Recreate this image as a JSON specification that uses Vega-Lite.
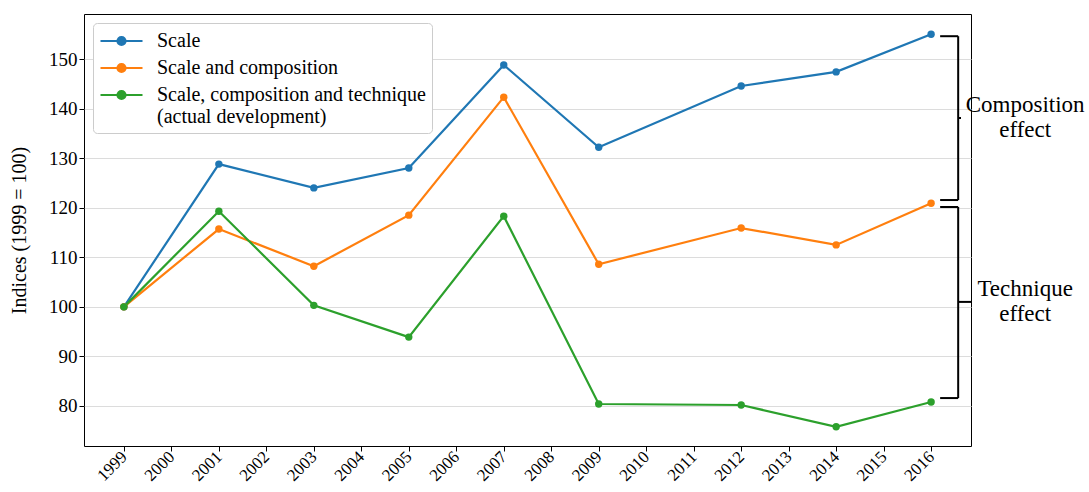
{
  "$schema": "https://vega.github.io/schema/vega-lite/v6.json",
  "width": 887,
  "height": 432,
  "autosize": "none",
  "padding": {"left": 84, "top": 14, "right": 118, "bottom": 46},
  "background": "white",
  "config": {
    "font": "Liberation Serif",
    "view": {"stroke": "black", "strokeWidth": 1},
    "axis": {"labelFont": "Liberation Serif", "titleFont": "Liberation Serif", "labelFontSize": 19, "titleFontSize": 20, "titleFontWeight": "normal", "labelColor": "black", "titleColor": "black", "domainColor": "black", "tickColor": "black", "tickSize": 5, "gridColor": "#dcdcdc", "gridWidth": 1}
  },
  "datasets": {
    "series": [
      {"year": 1999, "value": 100, "series": "Scale"},
      {"year": 2001, "value": 128.8, "series": "Scale"},
      {"year": 2003, "value": 124.0, "series": "Scale"},
      {"year": 2005, "value": 128.0, "series": "Scale"},
      {"year": 2007, "value": 148.8, "series": "Scale"},
      {"year": 2009, "value": 132.2, "series": "Scale"},
      {"year": 2012, "value": 144.55, "series": "Scale"},
      {"year": 2014, "value": 147.4, "series": "Scale"},
      {"year": 2016, "value": 155.0, "series": "Scale"},
      {"year": 1999, "value": 100, "series": "Scale and composition"},
      {"year": 2001, "value": 115.7, "series": "Scale and composition"},
      {"year": 2003, "value": 108.2, "series": "Scale and composition"},
      {"year": 2005, "value": 118.5, "series": "Scale and composition"},
      {"year": 2007, "value": 142.3, "series": "Scale and composition"},
      {"year": 2009, "value": 108.6, "series": "Scale and composition"},
      {"year": 2012, "value": 115.9, "series": "Scale and composition"},
      {"year": 2014, "value": 112.5, "series": "Scale and composition"},
      {"year": 2016, "value": 120.9, "series": "Scale and composition"},
      {"year": 1999, "value": 100, "series": "Scale, composition and technique (actual development)"},
      {"year": 2001, "value": 119.3, "series": "Scale, composition and technique (actual development)"},
      {"year": 2003, "value": 100.3, "series": "Scale, composition and technique (actual development)"},
      {"year": 2005, "value": 93.9, "series": "Scale, composition and technique (actual development)"},
      {"year": 2007, "value": 118.3, "series": "Scale, composition and technique (actual development)"},
      {"year": 2009, "value": 80.4, "series": "Scale, composition and technique (actual development)"},
      {"year": 2012, "value": 80.2, "series": "Scale, composition and technique (actual development)"},
      {"year": 2014, "value": 75.8, "series": "Scale, composition and technique (actual development)"},
      {"year": 2016, "value": 80.8, "series": "Scale, composition and technique (actual development)"}
    ],
    "brackets": [
      {"x": 2016.19, "x2": 2016.57, "y": 154.6, "y2": 154.6},
      {"x": 2016.57, "x2": 2016.57, "y": 154.6, "y2": 121.55},
      {"x": 2016.19, "x2": 2016.57, "y": 121.55, "y2": 121.55},
      {"x": 2016.57, "x2": 2016.63, "y": 138.1, "y2": 138.1},
      {"x": 2016.19, "x2": 2016.57, "y": 120.15, "y2": 120.15},
      {"x": 2016.57, "x2": 2016.57, "y": 120.15, "y2": 81.6},
      {"x": 2016.19, "x2": 2016.57, "y": 81.6, "y2": 81.6},
      {"x": 2016.57, "x2": 2016.84, "y": 101.0, "y2": 101.0}
    ],
    "labels": [
      {"x": 2017.98, "y": 140.7, "label": "Composition\neffect"},
      {"x": 2017.98, "y": 103.6, "label": "Technique\neffect"}
    ]
  },
  "layer": [
    {
      "data": {"name": "series"},
      "mark": {"type": "line", "strokeWidth": 2.2, "point": {"filled": true, "size": 55, "opacity": 1}},
      "encoding": {
        "x": {"field": "year", "type": "quantitative", "scale": {"domain": [1998.16, 2016.84], "nice": false, "zero": false},
              "axis": {"values": [1999,2000,2001,2002,2003,2004,2005,2006,2007,2008,2009,2010,2011,2012,2013,2014,2015,2016], "format": "d", "grid": false, "title": null, "labelAngle": -45, "labelAlign": "right", "labelBaseline": "middle", "labelPadding": 3, "labelFontSize": 17, "domain": false}},
        "y": {"field": "value", "type": "quantitative", "scale": {"domain": [71.93, 159.08], "nice": false, "zero": false},
              "axis": {"values": [80,90,100,110,120,130,140,150], "title": "Indices (1999 = 100)", "titlePadding": 19, "domain": false}},
        "color": {"field": "series", "type": "nominal",
                  "scale": {"domain": ["Scale", "Scale and composition", "Scale, composition and technique (actual development)"], "range": ["#1f77b4", "#ff7f0e", "#2ca02c"]},
                  "legend": {"title": null, "orient": "top-left", "offset": 9, "padding": 6, "strokeColor": "#cccccc", "fillColor": "white", "cornerRadius": 4,
                             "labelFont": "Liberation Serif", "labelFontSize": 20, "labelColor": "black", "labelLimit": 400, "rowPadding": 5,
                             "symbolType": "M-2,0H2M-0.38,0A0.38,0.38 0 1,0 0.38,0A0.38,0.38 0 1,0 -0.38,0", "symbolSize": 441, "symbolStrokeWidth": 2.2,
                             "symbolOffset": 10.5, "labelOffset": 23.5,
                             "labelExpr": "datum.label == 'Scale, composition and technique (actual development)' ? ['Scale, composition and technique', '(actual development)'] : datum.label",
                             "encode": {"symbols": {"update": {"fill": {"scale": "color", "field": "value"}, "fillOpacity": {"value": 1}}},
                                        "labels": {"update": {"lineHeight": {"value": 22}}}}}}
      }
    },
    {
      "data": {"name": "brackets"},
      "mark": {"type": "rule", "color": "black", "strokeWidth": 2, "clip": false},
      "encoding": {
        "x": {"field": "x", "type": "quantitative"},
        "x2": {"field": "x2"},
        "y": {"field": "y", "type": "quantitative"},
        "y2": {"field": "y2"}
      }
    },
    {
      "data": {"name": "labels"},
      "mark": {"type": "text", "font": "Liberation Serif", "fontSize": 23, "align": "center", "baseline": "middle", "lineBreak": "\n", "lineHeight": 25, "color": "black"},
      "encoding": {
        "x": {"field": "x", "type": "quantitative"},
        "y": {"field": "y", "type": "quantitative"},
        "text": {"field": "label"}
      }
    }
  ]
}
